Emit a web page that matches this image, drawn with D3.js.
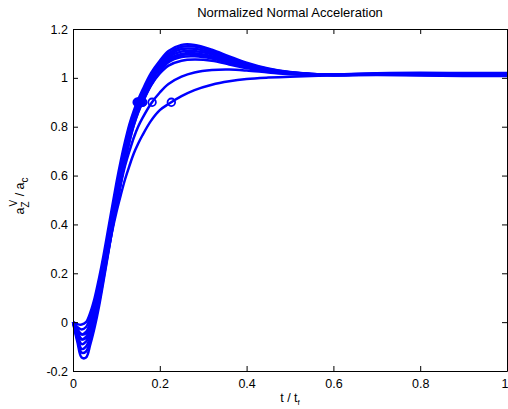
<!DOCTYPE html>
<html>
<head>
<meta charset="utf-8">
<script src="https://cdn.jsdelivr.net/npm/d3@7"></script>
<style>
  body { margin: 0; background: #fff; }
  svg { display: block; font-family: 'Liberation Sans', Arial, sans-serif; }
  .line-path { fill: none; stroke: #0000ff; stroke-width: 2.5; }
  .marker { fill: none; stroke: #0000ff; stroke-width: 1.8; }
  .axis text { font-size: 12.5px; fill: #000; }
  .axis path, .axis line { stroke: #000; }
</style>
</head>
<body>
<div id="chart"></div>
<script>
// time samples (t / tf)
const tSamples = [0, 0.01, 0.02, 0.03, 0.04, 0.05, 0.06, 0.07, 0.08, 0.09, 0.10, 0.11, 0.12, 0.13, 0.14, 0.15, 0.16, 0.18, 0.20, 0.22, 0.25, 0.28, 0.32, 0.36, 0.40, 0.45, 0.50, 0.60, 0.70, 0.80, 0.90, 1.00]

// normalized normal acceleration, one array per run
const run1 = [0, -0.008, -0.01, 0.0, 0.04, 0.10, 0.18, 0.27, 0.37, 0.47, 0.57, 0.66, 0.74, 0.81, 0.865, 0.91, 0.95, 1.02, 1.07, 1.11, 1.135, 1.135, 1.115, 1.088, 1.062, 1.038, 1.024, 1.012, 1.012, 1.01, 1.008, 1.008]
const run2 = [0, -0.02, -0.03, -0.02, 0.02, 0.08, 0.16, 0.25, 0.35, 0.45, 0.55, 0.64, 0.725, 0.80, 0.855, 0.90, 0.94, 1.012, 1.062, 1.10, 1.127, 1.128, 1.11, 1.083, 1.058, 1.036, 1.023, 1.012, 1.014, 1.013, 1.011, 1.011]
const run3 = [0, -0.03, -0.05, -0.04, 0.0, 0.06, 0.14, 0.235, 0.335, 0.435, 0.535, 0.63, 0.715, 0.79, 0.848, 0.893, 0.933, 1.005, 1.055, 1.093, 1.118, 1.119, 1.103, 1.078, 1.055, 1.034, 1.022, 1.012, 1.015, 1.015, 1.013, 1.013]
const run4 = [0, -0.04, -0.07, -0.06, -0.02, 0.045, 0.125, 0.22, 0.32, 0.42, 0.52, 0.615, 0.70, 0.778, 0.84, 0.887, 0.927, 0.998, 1.048, 1.085, 1.108, 1.11, 1.096, 1.073, 1.052, 1.032, 1.021, 1.012, 1.016, 1.016, 1.015, 1.015]
const run5 = [0, -0.05, -0.09, -0.08, -0.04, 0.03, 0.11, 0.205, 0.305, 0.405, 0.505, 0.60, 0.688, 0.768, 0.832, 0.88, 0.92, 0.99, 1.042, 1.078, 1.098, 1.101, 1.089, 1.068, 1.048, 1.03, 1.02, 1.013, 1.017, 1.018, 1.016, 1.016]
const run6 = [0, -0.06, -0.11, -0.10, -0.06, 0.01, 0.095, 0.19, 0.29, 0.39, 0.49, 0.585, 0.675, 0.757, 0.823, 0.873, 0.913, 0.985, 1.037, 1.072, 1.093, 1.096, 1.085, 1.065, 1.046, 1.029, 1.019, 1.013, 1.018, 1.019, 1.018, 1.018]
const run7 = [0, -0.07, -0.125, -0.12, -0.075, -0.005, 0.08, 0.175, 0.275, 0.375, 0.475, 0.57, 0.66, 0.74, 0.807, 0.86, 0.90, 0.97, 1.018, 1.05, 1.07, 1.075, 1.07, 1.055, 1.04, 1.026, 1.017, 1.012, 1.016, 1.017, 1.016, 1.016]
const run8 = [0, -0.08, -0.145, -0.145, -0.09, -0.02, 0.065, 0.165, 0.27, 0.375, 0.475, 0.57, 0.66, 0.74, 0.805, 0.857, 0.898, 0.97, 1.025, 1.064, 1.085, 1.088, 1.079, 1.061, 1.043, 1.027, 1.018, 1.014, 1.019, 1.021, 1.02, 1.02]
const run9 = [0, -0.04, -0.07, -0.065, -0.03, 0.03, 0.11, 0.205, 0.30, 0.395, 0.485, 0.565, 0.64, 0.70, 0.755, 0.80, 0.835, 0.895, 0.94, 0.975, 1.005, 1.022, 1.032, 1.034, 1.03, 1.022, 1.015, 1.012, 1.015, 1.013, 1.012, 1.012]
const run10 = [0, -0.03, -0.05, -0.045, -0.015, 0.035, 0.10, 0.19, 0.28, 0.37, 0.45, 0.52, 0.585, 0.64, 0.69, 0.73, 0.765, 0.825, 0.868, 0.893, 0.925, 0.95, 0.972, 0.986, 0.995, 1.001, 1.005, 1.01, 1.013, 1.012, 1.011, 1.01]

const runs = [run1, run2, run3, run4, run5, run6, run7, run8, run9, run10]

const xTicks = [0, 0.2, 0.4, 0.6, 0.8, 1]
const yTicks = [-0.2, 0, 0.2, 0.4, 0.6, 0.8, 1, 1.2]
const riseLevel = 0.9

const width = 508
const height = 409
const margin = { top: 29, right: 1, bottom: 38, left: 73 }

const svg = d3.select('#chart').append('svg')
	.attr('width', width)
	.attr('height', height)

let xScale = d3.scaleLinear()
	.domain([0, 1])
	.range([margin.left, width - margin.right])
let yScale = d3.scaleLinear()
	.domain([-0.2, 1.2])
	.range([height - margin.bottom, margin.top])

const lineGenerator = d3.line()
	.x((d, i) => xScale(tSamples[i]))
	.y(d => yScale(d))
	.curve(d3.curveCatmullRom.alpha(0.5))

const plot = svg.append('g')

runs.forEach(run => {
	plot.append('path')
		.attr('class', 'line-path')
		.attr('d', lineGenerator(run))
})

// rise-time markers where each run first reaches 0.9
const crossings = runs.map(run => {
	const i = run.findIndex(v => v >= riseLevel)
	const f = (riseLevel - run[i - 1]) / (run[i] - run[i - 1])
	return tSamples[i - 1] + f * (tSamples[i] - tSamples[i - 1])
})

plot.selectAll('.marker')
	.data(crossings)
	.join('circle')
	.attr('class', 'marker')
	.attr('cx', d => xScale(d))
	.attr('cy', yScale(riseLevel))
	.attr('r', 3.8)

const fmt = d => (d === 0 ? '0' : String(d))

const xAxisG = svg.append('g')
	.attr('class', 'axis')
	.attr('transform', `translate(0, ${height - margin.bottom})`)
	.call(d3.axisBottom(xScale).tickValues(xTicks).tickFormat(fmt).tickSizeInner(-5).tickSizeOuter(0).tickPadding(8))
// keep the last label inside the window
xAxisG.selectAll('.tick:last-of-type text').attr('text-anchor', 'end').attr('x', 1)

svg.append('g')
	.attr('class', 'axis')
	.attr('transform', `translate(0, ${margin.top})`)
	.call(d3.axisTop(xScale).tickValues(xTicks).tickFormat('').tickSizeInner(-5).tickSizeOuter(0))
svg.append('g')
	.attr('class', 'axis')
	.attr('transform', `translate(${margin.left}, 0)`)
	.call(d3.axisLeft(yScale).tickValues(yTicks).tickFormat(fmt).tickSizeInner(-5).tickSizeOuter(0).tickPadding(5))
svg.append('g')
	.attr('class', 'axis')
	.attr('transform', `translate(${width - margin.right}, 0)`)
	.call(d3.axisRight(yScale).tickValues(yTicks).tickFormat('').tickSizeInner(-5).tickSizeOuter(0))

svg.append('text')
	.attr('x', (margin.left + width - margin.right) / 2)
	.attr('y', 17)
	.attr('text-anchor', 'middle')
	.style('font-size', '13px')
	.text('Normalized Normal Acceleration')

const xLabel = svg.append('text')
	.attr('x', (margin.left + width - margin.right) / 2)
	.attr('y', 402)
	.attr('text-anchor', 'middle')
	.style('font-size', '12.5px')
xLabel.append('tspan').text('t / t')
xLabel.append('tspan').attr('dy', 3).style('font-size', '8px').text('f')

const yLabel = svg.append('text')
	.attr('transform', `translate(24, ${(margin.top + height - margin.bottom) / 2 - 4}) rotate(-90)`)
	.attr('text-anchor', 'middle')
	.style('font-size', '12.5px')
yLabel.append('tspan').text('a')
yLabel.append('tspan').attr('dy', 5).style('font-size', '10px').text('Z')
yLabel.append('tspan').attr('dx', -5).attr('dy', -12).style('font-size', '10px').text('V')
yLabel.append('tspan').attr('dy', 7).text(' / a')
yLabel.append('tspan').attr('dy', 4).style('font-size', '10px').text('c')
</script>
</body>
</html>
